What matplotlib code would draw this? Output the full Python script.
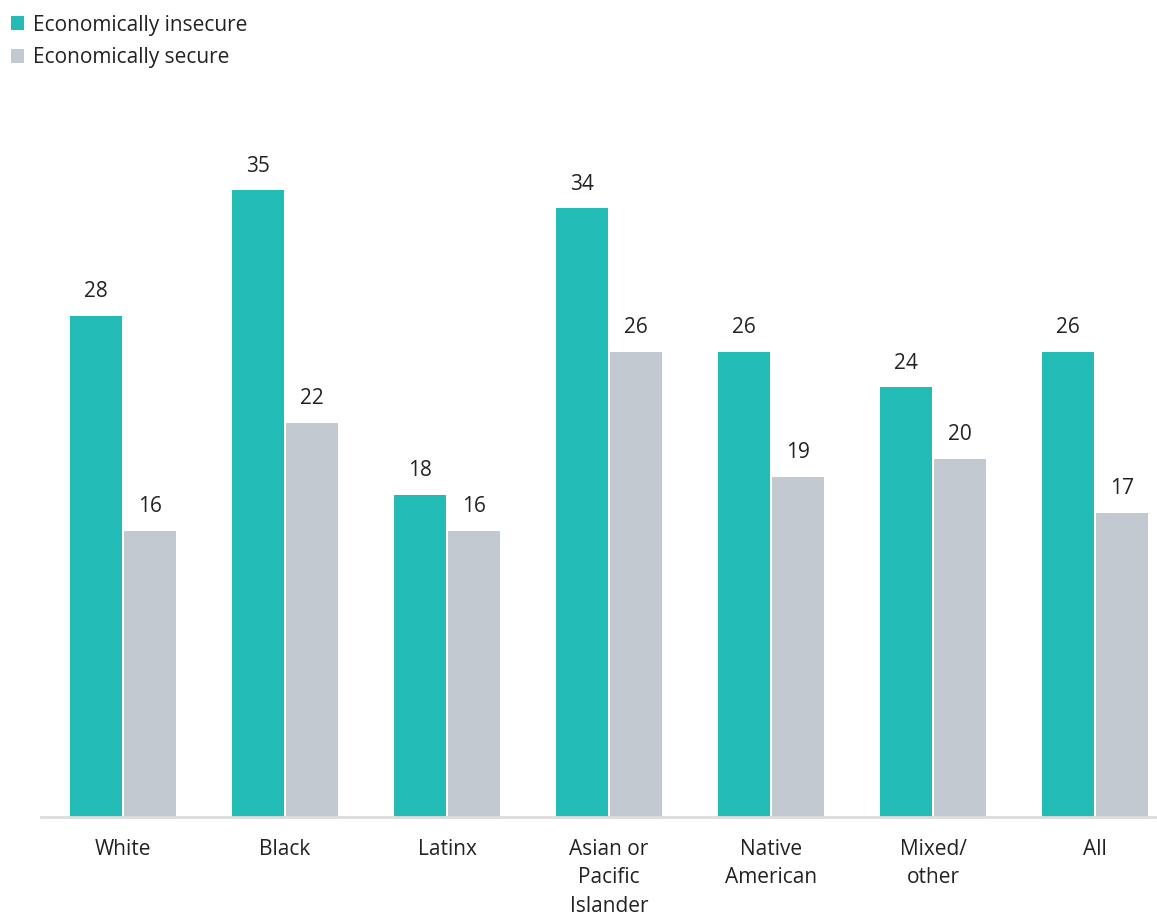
import matplotlib.pyplot as plt
import numpy as np

plt.rcParams['font.family'] = ['Open Sans', 'DejaVu Sans']

groups = ["White", "Black", "Latinx", "Asian or\nPacific\nIslander",
          "Native\nAmerican", "Mixed/\nother", "All"]
insecure = [28, 35, 18, 34, 26, 24, 26]
secure = [16, 22, 16, 26, 19, 20, 17]

teal = "#22BBB6"
grey = "#C2C9D0"
text_col = "#222222"

fig = plt.figure(figsize=(11.57, 9.16), dpi=100)
W, H = 1157, 916
# axes placed in pixel terms: baseline at y=817, left edge at x=41
ax = fig.add_axes([41 / W, (H - 817) / H, (W - 41) / W, (817 - 150) / H])

x = np.arange(len(groups))
bw = 0.321
gap = 0.006
b1 = ax.bar(x - bw / 2 - gap, insecure, width=bw, color=teal, label="Economically insecure")
b2 = ax.bar(x + bw / 2 + gap, secure, width=bw, color=grey, label="Economically secure")

for bars, vals in ((b1, insecure), (b2, secure)):
    for rect, v in zip(bars, vals):
        ax.annotate(str(v), (rect.get_x() + rect.get_width() / 2, v),
                    xytext=(0, 10), textcoords="offset points",
                    ha="center", va="bottom", fontsize=15, color=text_col)

ax.set_xlim(-0.506, 6.383)
ax.set_ylim(0, (817 - 150) / 17.9)

ax.set_xticks(x)
ax.set_xticklabels(groups, fontsize=15, color=text_col, linespacing=1.45)
ax.tick_params(axis="x", length=0, pad=16)
ax.set_yticks([])
for s in ("top", "right", "left"):
    ax.spines[s].set_visible(False)
ax.spines["bottom"].set_color("#DCDCDC")
ax.spines["bottom"].set_linewidth(2)

fig.legend(handles=[b1, b2], loc="upper left", bbox_to_anchor=(0.002, 0.993),
           frameon=False, fontsize=15, handlelength=0.65, handleheight=0.65,
           handletextpad=0.4, labelspacing=0.55, borderaxespad=0,
           labelcolor=text_col)

fig.savefig("out.png", dpi=100)
